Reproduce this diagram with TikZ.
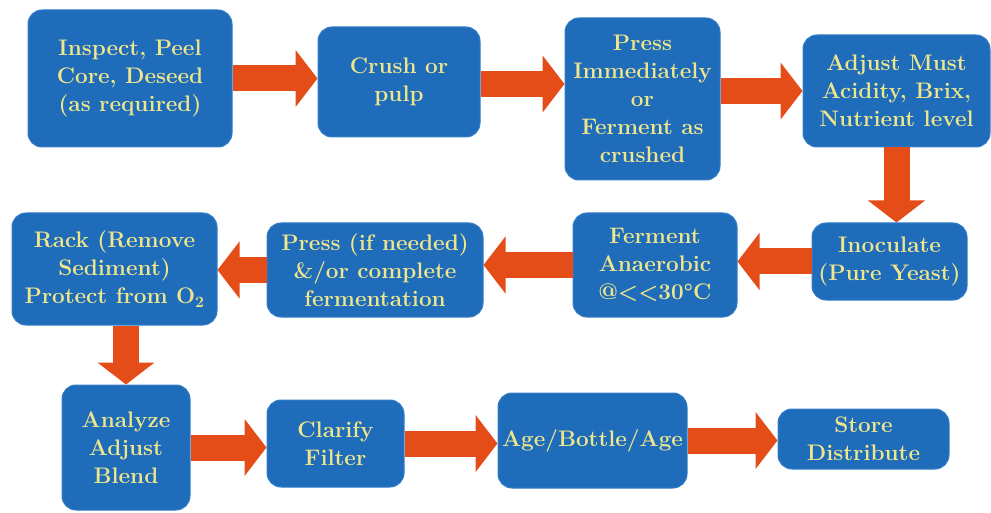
\documentclass[tikz,border=0pt]{standalone}
\usetikzlibrary{arrows.meta}
\definecolor{boxblue}{RGB}{30,108,186}
\definecolor{boxedge}{RGB}{52,126,200}
\definecolor{textyellow}{RGB}{238,230,140}
\definecolor{arroworange}{RGB}{228,76,24}

\begin{document}
\begin{tikzpicture}[x=1pt,y=-1pt,
    process/.style ={rectangle, rounded corners=14pt, fill=boxblue, draw=boxedge,
      line width=1pt, text=textyellow, align=center, inner sep=0pt,
      font=\bfseries\fontsize{22.5}{28}\selectfont},
    flow/.style ={draw=arroworange, line width=26pt,
      -{Triangle[length=22pt,width=56pt]}, color=arroworange}]
   \useasboundingbox (0,0) rectangle (991,513);
   % first row
   \node[process, minimum width=204pt, minimum height=137pt] (A) at (130,78.5)
     {Inspect, Peel\\Core, Deseed\\(as required)};
   \node[process, minimum width=162pt, minimum height=110pt] (B) at (399,82)
     {Crush or\\pulp};
   \node[process, minimum width=155pt, minimum height=162pt] (C) at (642.5,99)
     {Press\\Immediately\\or\\Ferment as\\crushed};
   \node[process, minimum width=187pt, minimum height=112pt] (D) at (896.5,91)
     {Adjust Must\\Acidity, Brix,\\Nutrient level};
   % second row
   \node[process, minimum width=155pt, minimum height=77pt] (E) at (889.5,261.5)
     {Inoculate\\(Pure Yeast)};
   \node[process, minimum width=164pt, minimum height=104pt] (F) at (655,265)
     {Ferment\\Anaerobic\\@<{}<30°C};
   \node[process, minimum width=216pt, minimum height=94pt] (G) at (375,270)
     {Press (if needed)\\\&/or complete\\fermentation};
   \node[process, minimum width=205pt, minimum height=112pt] (H) at (114.5,269)
     {Rack (Remove\\Sediment)\\Protect from O\textsubscript{2}};
   % third row
   \node[process, minimum width=128pt, minimum height=125pt] (I) at (126,447.5)
     {Analyze\\Adjust\\Blend};
   \node[process, minimum width=137pt, minimum height=87pt] (J) at (335.5,443.5)
     {Clarify\\Filter};
   \node[process, minimum width=189pt, minimum height=95pt] (K) at (592.5,440.5)
     {Age/Bottle/Age};
   \node[process, minimum width=171pt, minimum height=60pt] (L) at (863.5,439)
     {Store\\Distribute};
   % arrows
   \draw[flow] (A.east) -- (A.east -| B.west);
   \draw[flow] ([yshift=-2pt]B.east) -- ([yshift=-2pt]B.east -| C.west);
   \draw[flow] (D.west -| C.east) -- (D.west);
   \draw[flow] (D.south) -- (D.south |- E.north);
   \draw[flow] (E.west) -- (E.west -| F.east);
   \draw[flow] (F.west) -- (F.west -| G.east);
   \draw[flow] (G.west) -- (G.west -| H.east);
   \draw[flow] (I.north |- H.south) -- (I.north);
   \draw[flow] (I.east) -- (I.east -| J.west);
   \draw[flow] (J.east) -- (J.east -| K.west);
   \draw[flow] (K.east) -- (K.east -| L.west);
 \end{tikzpicture}
\end{document}
